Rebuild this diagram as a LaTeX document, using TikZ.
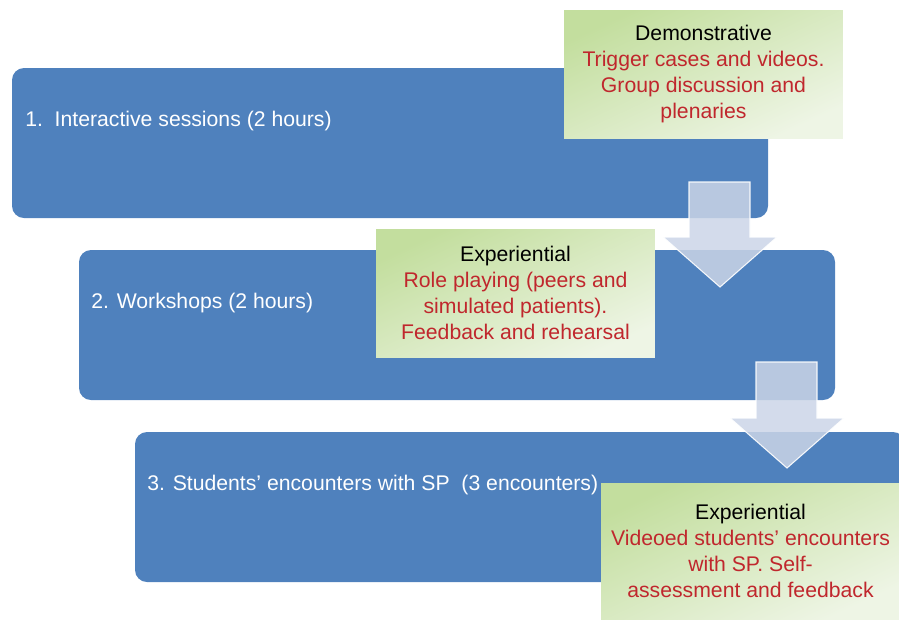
\documentclass[tikz,border=0pt]{standalone}
\usepackage{fontspec}
\setmainfont{Liberation Sans}
\usepackage{tikz}
\usetikzlibrary{positioning}

\definecolor{stageblue}{RGB}{79,129,189}
\definecolor{notered}{RGB}{192,39,45}
\definecolor{greendark}{RGB}{195,222,158}
\definecolor{greenlight}{RGB}{238,245,229}
\definecolor{arrowfill}{RGB}{203,213,231}

\begin{document}
\begin{tikzpicture}
	[x=0.75pt,y=-0.75pt,
	 stage/.style={rectangle,rounded corners=9pt,fill=stageblue,minimum width=567pt,minimum height=112.5pt,inner sep=0pt},
	 stagetext/.style={anchor=west,text=white,inner sep=0pt,font=\fontsize{15.9}{19.5}\selectfont},
	 note/.style={rectangle,top color=greendark,bottom color=greenlight,shading angle=25,minimum width=209pt,minimum height=96pt,inner sep=0pt,align=center,font=\fontsize{15.9}{19.5}\selectfont},
	 flow/.style={fill=arrowfill,fill opacity=0.85,draw=white,draw opacity=0.9,line width=0.8pt,line join=miter}]
	\useasboundingbox (0,0) rectangle (899,619);
	% stage 1
	\node[stage] (s1) at (390,143) {};
	\node[stagetext] (t1) at (25,121) {1.\ \ Interactive sessions (2 hours)};
	\node[note] (n1) at (703.5,74) {Demonstrative\\\textcolor{notered}{Trigger cases and videos.}\\\textcolor{notered}{Group discussion and}\\\textcolor{notered}{plenaries}};
	% stage 2
	\node[stage] (s2) at (457,325) {};
	\node[stagetext] (t2) at (91,303) {2. Workshops (2 hours)};
	\node[note] (n2) at (515.5,293) {Experiential\\\textcolor{notered}{Role playing (peers and}\\\textcolor{notered}{simulated patients).}\\\textcolor{notered}{Feedback and rehearsal}};
	% stage 3
	\node[stage,minimum width=577.5pt] (s3) at (520,507) {};
	\node[stagetext] (t3) at (147,485) {3. Students’ encounters with SP\ \ (3 encounters)};
	\node[note,minimum width=224pt,minimum height=102pt] (n3) at (750.5,551) {Experiential\\\textcolor{notered}{Videoed students’ encounters}\\\textcolor{notered}{with SP. Self-}\\\textcolor{notered}{assessment and feedback}};
	% down arrows
	\coordinate (a1) at (720,287);
	\coordinate (a2) at (787,468);
	\draw[flow] (689,182) -- (750,182) -- (750,237) -- (777,237) -- (a1) -- (663,237) -- (689,237) -- cycle;
	\draw[flow] (756,362) -- (817,362) -- (817,418) -- (844,418) -- (a2) -- (730,418) -- (756,418) -- cycle;
\end{tikzpicture}
\end{document}
